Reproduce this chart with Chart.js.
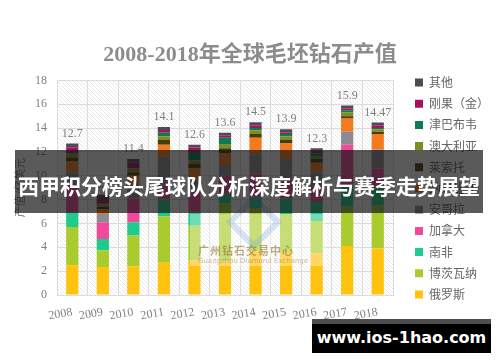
<!DOCTYPE html>
<html>
<head>
<meta charset="utf-8">
<script src="https://cdn.jsdelivr.net/npm/chart.js@4.4.1/dist/chart.umd.min.js"></script>
<style>
html, body { margin: 0; padding: 0; background: #fff; }
#wrap { position: relative; width: 500px; height: 362px; overflow: hidden; }
#banner { position: absolute; left: 15px; top: 150px; width: 468px; height: 63px; background: rgba(20,20,20,0.7);
  color: #fff; font: bold 21px "Noto Sans CJK SC"; text-align: center; line-height: 70px; white-space: nowrap; }
#footer { position: absolute; left: 312px; top: 319px; width: 179px; height: 34px; box-sizing: border-box;
  background: #000; border-top: 5px solid #4e4e4e; color: #fff; font: bold 16px "DejaVu Sans"; text-align: center; line-height: 28px; }
#wm { position: absolute; left: 190px; top: 214px; width: 136px; height: 52px; background: rgba(255,255,255,0.35); }
#wm .logo { position: absolute; left: 44px; top: -12px; width: 28px; height: 28px; border: 6px solid rgba(120,170,220,0.3); transform: rotate(45deg); }
#wm .cn { position: absolute; left: 8px; top: 28px; font: bold 11px "Noto Sans CJK SC"; color: rgba(150,120,50,0.6); letter-spacing: 1px; }
#wm .en { position: absolute; left: 8px; top: 43px; font: 7px "DejaVu Sans"; color: rgba(150,120,50,0.5); }
</style>
</head>
<body>
<div id="wrap">
  <canvas id="chart" width="500" height="362"></canvas>
  <div id="wm"><div class="logo"></div><div class="cn">广州钻石交易中心</div><div class="en">Guangzhou Diamond Exchange</div></div>
  <div id="banner">西甲积分榜头尾球队分析深度解析与赛季走势展望</div>
  <div id="footer">www.ios-1hao.com</div>
</div>
<script>
// values (bn USD), bottom of the stack first
const years = ["2008", "2009", "2010", "2011", "2012", "2013", "2014", "2015", "2016", "2017", "2018"];
const totals = ["12.7", "8.4", "11.4", "14.1", "12.6", "13.6", "14.5", "13.9", "12.3", "15.9", "14.47"];
const russia = [2.5, 2.35, 2.4, 2.7, 2.9, 2.8, 3.7, 3.6, 3.5, 4.1, 3.9];
const botswana = [3.2, 1.4, 2.6, 3.9, 2.9, 4.9, 3.6, 3.2, 2.7, 3.3, 3.6];
const southAfrica = [1.2, 0.95, 1.1, 1.4, 1.1, 0.8, 0.9, 1.3, 1.6, 1.7, 1.5];
const canada = [2.3, 1.4, 2.0, 1.2, 1.7, 1.5, 2.0, 1.5, 1.3, 3.5, 1.6];
const angola = [1.1, 0.7, 1.1, 2.4, 1.1, 0.9, 1.6, 1.8, 1.2, 1.1, 1.6];
const namibia = [0.9, 0.4, 0.8, 1.0, 0.9, 1.0, 1.4, 1.3, 0.8, 1.1, 1.3];
const lesotho = [0.3, 0.2, 0.3, 0.4, 0.4, 0.4, 0.3, 0.3, 0.3, 0.2, 0.2];
const australia = [0.3, 0.2, 0.3, 0.3, 0.3, 0.3, 0.3, 0.3, 0.2, 0.3, 0.2];
const zimbabwe = [0.1, 0.05, 0.05, 0.3, 0.7, 0.6, 0.2, 0.2, 0.3, 0.2, 0.1];
const drc = [0.5, 0.4, 0.45, 0.25, 0.35, 0.15, 0.2, 0.1, 0.2, 0.15, 0.2];
const other = [0.3, 0.35, 0.3, 0.25, 0.25, 0.25, 0.3, 0.3, 0.2, 0.25, 0.27];

const serif = '"Liberation Serif", "Noto Sans CJK SC"';
const cjk = '"Noto Sans CJK SC"';

function series(label, data, color) {
    return { label: label, data: data, backgroundColor: color, borderWidth: 0 };
}

function hatch(ctx) {
    const c = document.createElement("canvas");
    c.width = 4; c.height = 4;
    const g = c.getContext("2d");
    g.strokeStyle = "#e4e4e4";
    g.lineWidth = 0.8;
    g.beginPath(); g.moveTo(0, 0); g.lineTo(4, 4); g.stroke();
    return ctx.createPattern(c, "repeat");
}

const extras = {
    id: "extras",
    beforeLayout(chart) {
        const lg = chart.legend;
        if (lg && !lg._fixed) {
            const fit = lg.fit;
            lg.fit = function () { fit.call(this); this.width = 107; };
            lg._fixed = true;
        }
    },
    afterLayout(chart) {
        // legend sits a bit to the right of the plot and lower than chart.js centres it
        const lg = chart.legend;
        const dx = 415 - (lg.left + lg.options.labels.padding);
        lg.left += dx;
        lg.right += dx;
        lg.top += 26;
        lg.bottom += 26;
    },
    beforeDraw(chart) {
        const a = chart.chartArea, ctx = chart.ctx;
        ctx.save();
        ctx.fillStyle = hatch(ctx);
        ctx.fillRect(a.left, a.top, a.right - a.left, a.bottom - a.top);
        ctx.restore();
    },
    afterDatasetsDraw(chart) {
        const ctx = chart.ctx;
        const top = chart.getDatasetMeta(chart.data.datasets.length - 1);
        ctx.save();
        ctx.font = "12px " + serif;
        ctx.fillStyle = "#7f7f7f";
        ctx.textAlign = "center";
        ctx.textBaseline = "middle";
        top.data.forEach((bar, i) => ctx.fillText(totals[i], bar.x, bar.y - 10));
        ctx.restore();
    }
};

new Chart(document.getElementById("chart"), {
    type: "bar",
    data: {
        labels: years,
        datasets: [
            series("俄罗斯", russia, "#FFC20E"),
            series("博茨瓦纳", botswana, "#A9CB2D"),
            series("南非", southAfrica, "#1ECB8C"),
            series("加拿大", canada, "#EF4A9C"),
            series("安哥拉", angola, "#8C8A94"),
            series("纳米比亚", namibia, "#F57A1F"),
            series("莱索托", lesotho, "#4D3B07"),
            series("澳大利亚", australia, "#7E8C22"),
            series("津巴布韦", zimbabwe, "#0E7A4F"),
            series("刚果（金）", drc, "#A3135F"),
            series("其他", other, "#4F4B55")
        ]
    },
    options: {
        responsive: false,
        animation: false,
        layout: { padding: { left: 0, right: 0, top: 0, bottom: 37 } },
        datasets: { bar: { categoryPercentage: 0.8, barPercentage: 0.5 } },
        scales: {
            x: {
                stacked: true,
                grid: { color: "#dcdcdc", drawTicks: false, offset: true },
                border: { color: "#dcdcdc" },
                ticks: { font: { family: serif, size: 12 }, color: "#7f7f7f", minRotation: 10, maxRotation: 10, padding: 10 },
                afterFit(scale) { scale.height = 30; }
            },
            y: {
                stacked: true,
                min: 0, max: 18,
                grid: { color: "#dcdcdc", drawTicks: false },
                border: { color: "#dcdcdc" },
                ticks: { stepSize: 2, font: { family: serif, size: 12 }, color: "#7f7f7f", padding: 10 },
                title: { display: true, text: "产值/亿美元", font: { family: cjk, size: 11 }, color: "#7f7f7f", padding: { top: 13, bottom: 13 } },
                afterFit(scale) { scale.width = 57; }
            }
        },
        plugins: {
            title: {
                display: true,
                text: "2008-2018年全球毛坯钻石产值",
                font: { family: serif, size: 22, weight: "bold" },
                color: "#8c8c8c",
                padding: { top: 42, bottom: 12 }
            },
            legend: {
                position: "right",
                reverse: true,
                labels: { boxWidth: 8, boxHeight: 8, padding: 9.2, color: "#666", font: { family: cjk, size: 12 } }
            },
            tooltip: { enabled: false }
        }
    },
    plugins: [extras]
});
</script>
</body>
</html>
